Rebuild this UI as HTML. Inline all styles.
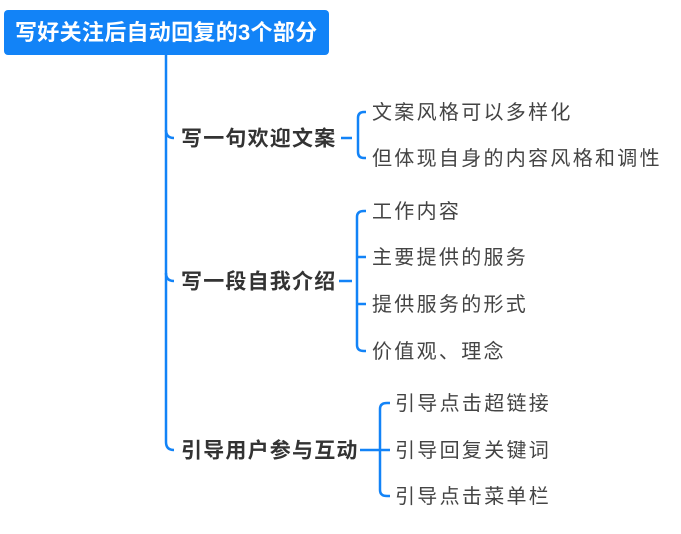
<!DOCTYPE html>
<html><head><meta charset="utf-8"><style>
body{margin:0;width:681px;height:534px;background:#fff;position:relative;overflow:hidden;font-family:"Liberation Sans","Noto Sans CJK SC",sans-serif}
.t{position:absolute;white-space:nowrap;line-height:1;transform:translateY(-50%)}
.r{left:4px;top:10px;width:325px;height:45px;background:#1283f7;border-radius:4px;position:absolute}
.r span{position:absolute;left:11px;top:23px;transform:translateY(-50%);color:#fff;font-weight:bold;font-size:22px;letter-spacing:0.3px;white-space:nowrap;line-height:1}
.l1{font-weight:bold;font-size:21px;color:#333;left:181px;letter-spacing:1.2px}
.l2{font-size:20px;color:#444;letter-spacing:2.3px}
</style></head><body>
<svg width="681" height="534" style="position:absolute;left:0;top:0" fill="none" stroke="#1283f7" stroke-width="2.5">
<path d="M166 55 V442 Q166 450 174 450"/>
<path d="M166 130 Q166 138 174 138"/>
<path d="M166 273 Q166 281 174 281"/>
<path d="M341 138 H352"/>
<path d="M366 112 H364 Q358 112 358 118 V152 Q358 158 364 158 H366"/>
<path d="M339 281 H352"/>
<path d="M366 211 H364 Q357 211 357 217 V345 Q357 351 364 351 H366"/>
<path d="M357 257 Q357 257 366 257"/>
<path d="M357 304 H366"/>
<path d="M360 450 H390"/>
<path d="M390 403 H387 Q380 403 380 409 V490 Q380 496 387 496 H390"/>
</svg>
<div class="r"><span>写好关注后自动回复的3个部分</span></div>
<div class="t l1" style="top:139px">写一句欢迎文案</div>
<div class="t l1" style="top:282px">写一段自我介绍</div>
<div class="t l1" style="top:451px">引导用户参与互动</div>
<div class="t l2" style="left:372px;top:113px">文案风格可以多样化</div>
<div class="t l2" style="left:372px;top:159px">但体现自身的内容风格和调性</div>
<div class="t l2" style="left:372px;top:212px">工作内容</div>
<div class="t l2" style="left:372px;top:258px">主要提供的服务</div>
<div class="t l2" style="left:372px;top:305px">提供服务的形式</div>
<div class="t l2" style="left:372px;top:352px">价值观、理念</div>
<div class="t l2" style="left:395px;top:404px">引导点击超链接</div>
<div class="t l2" style="left:395px;top:451px">引导回复关键词</div>
<div class="t l2" style="left:395px;top:497px">引导点击菜单栏</div>
</body></html>
